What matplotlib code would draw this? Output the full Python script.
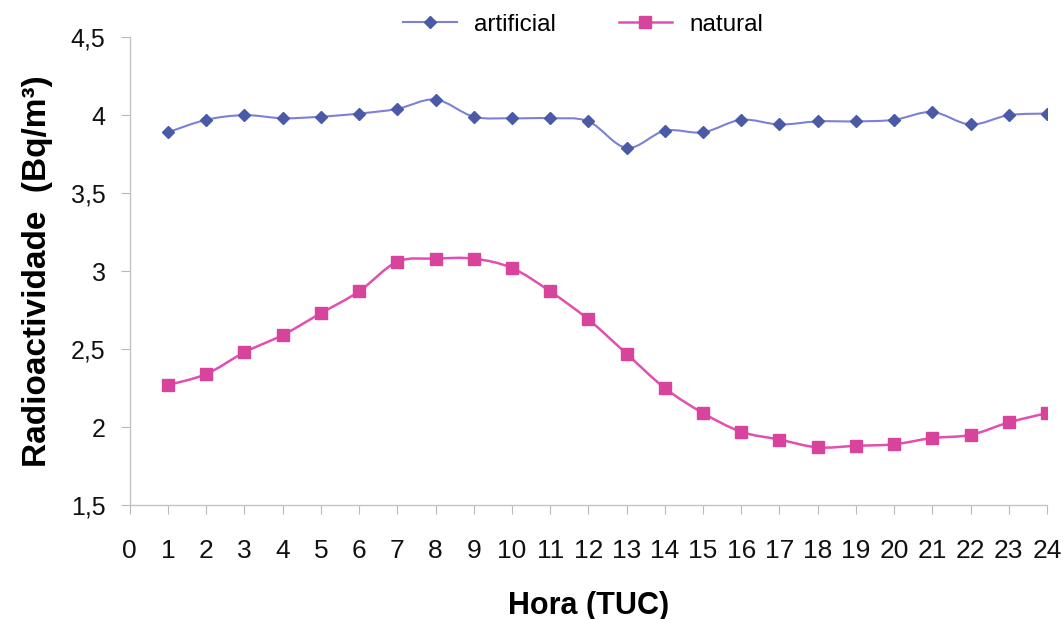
import numpy as np
import matplotlib
matplotlib.use("Agg")
import matplotlib.pyplot as plt
from matplotlib.path import Path
from matplotlib.patches import PathPatch
from matplotlib.lines import Line2D

# Hourly mean radioactivity (Bq/m3)
horas = list(range(1, 25))
artificial = [3.89, 3.97, 4.00, 3.98, 3.99, 4.01, 4.04, 4.10, 3.99, 3.98, 3.98, 3.96,
              3.79, 3.90, 3.89, 3.97, 3.94, 3.96, 3.96, 3.97, 4.02, 3.94, 4.00, 4.01]
natural = [2.27, 2.34, 2.48, 2.59, 2.73, 2.87, 3.06, 3.08, 3.08, 3.02, 2.87, 2.69,
           2.47, 2.25, 2.09, 1.97, 1.92, 1.87, 1.88, 1.89, 1.93, 1.95, 2.03, 2.09]
x_ticks = list(range(0, 25))
y_ticks = [1.5, 2, 2.5, 3, 3.5, 4, 4.5]
y_tick_labels = ["1,5", "2", "2,5", "3", "3,5", "4", "4,5"]

FONT = "Liberation Sans"
plt.rcParams["font.family"] = [FONT, "DejaVu Sans"]

BLUE_LINE, BLUE_MARK = "#7b80d8", "#4a5aa6"
PINK_LINE, PINK_MARK = "#e24fb0", "#d8449c"


def smooth_path(x, y):
    """Cubic Bezier path through the points (Catmull-Rom style tangents)."""
    pts = np.column_stack([x, y]).astype(float)
    n = len(pts)
    verts = [pts[0]]
    codes = [Path.MOVETO]
    for i in range(n - 1):
        p0 = pts[max(i - 1, 0)]
        p1 = pts[i]
        p2 = pts[i + 1]
        p3 = pts[min(i + 2, n - 1)]
        c1 = p1 + (p2 - p0) / 6.0
        c2 = p2 - (p3 - p1) / 6.0
        verts += [c1, c2, p2]
        codes += [Path.CURVE4] * 3
    return Path(verts, codes)


fig = plt.figure(figsize=(10.64, 6.19), dpi=100)
ax = fig.add_axes([0.122, 0.184, 0.862, 0.756])

ax.add_patch(PathPatch(smooth_path(horas, artificial), facecolor="none",
                       edgecolor=BLUE_LINE, lw=1.5, zorder=2))
ax.plot(horas, artificial, linestyle="none", marker="D", markersize=6.3,
        color=BLUE_MARK, zorder=3)

ax.add_patch(PathPatch(smooth_path(horas, natural), facecolor="none",
                       edgecolor=PINK_LINE, lw=1.8, zorder=2))
ax.plot(horas, natural, linestyle="none", marker="s", markersize=8.5,
        color=PINK_MARK, zorder=3)

ax.set_xlim(0, 24)
ax.set_ylim(1.5, 4.5)
ax.set_xticks(x_ticks)
ax.set_xticklabels([str(t) for t in x_ticks])
ax.set_yticks(y_ticks)
ax.set_yticklabels(y_tick_labels)

for side in ("top", "right"):
    ax.spines[side].set_visible(False)
for side in ("left", "bottom"):
    ax.spines[side].set_color("#c4c4c4")
    ax.spines[side].set_linewidth(1.0)

ax.tick_params(axis="both", direction="out", length=6.5, width=0.8,
               color="#b8b8b8", labelcolor="#111111")
ax.tick_params(axis="x", pad=18, labelsize=19)
ax.tick_params(axis="y", pad=11, labelsize=18)

ax.set_xlabel("Hora (TUC)", fontsize=22, fontweight="bold", labelpad=20)
ax.set_ylabel("Radioactividade  (Bq/m³)", fontsize=24, fontweight="bold", labelpad=13)

handles = [
    Line2D([], [], color=BLUE_LINE, lw=1.5, marker="D", markersize=6.3,
           markerfacecolor=BLUE_MARK, markeredgecolor=BLUE_MARK),
    Line2D([], [], color=PINK_LINE, lw=1.8, marker="s", markersize=8.5,
           markerfacecolor=PINK_MARK, markeredgecolor=PINK_MARK),
]
fig.legend(handles, ["artificial", "natural"], loc="center",
           bbox_to_anchor=(0.548, 0.96), ncol=2, frameon=False,
           fontsize=17.5, handlelength=2.2, columnspacing=2.6, handletextpad=0.7)

fig.savefig("out.png", dpi=100, facecolor="white")
